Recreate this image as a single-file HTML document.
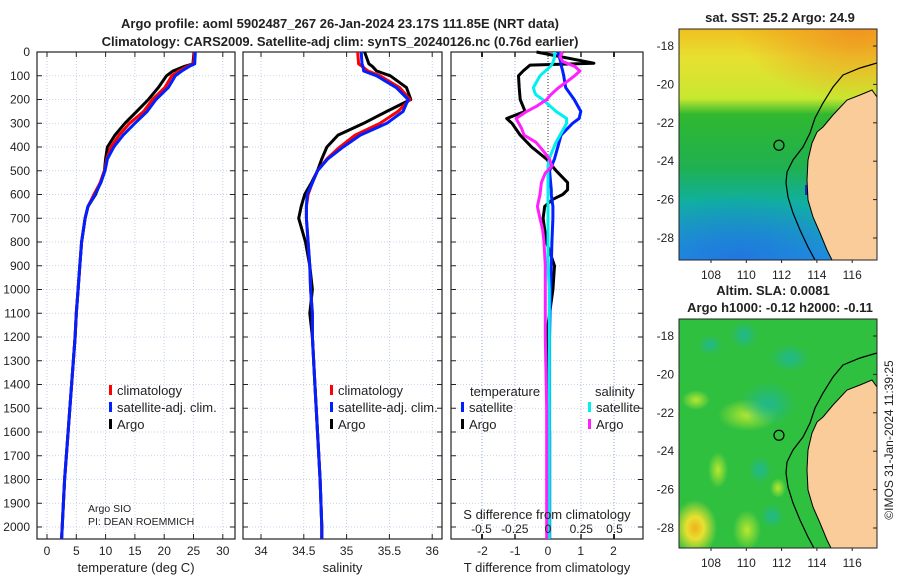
<!DOCTYPE html>
<html><head><meta charset="utf-8"><style>
body{margin:0;background:#fff;}
svg{display:block;font-family:"Liberation Sans","DejaVu Sans",sans-serif;}
text{fill:#222;}
</style></head><body>
<svg id="c" width="900" height="580" viewBox="0 0 900 580">
<defs>
<linearGradient id="sstg" x1="0" y1="0" x2="0" y2="1">
<stop offset="0" stop-color="#f0c020"/><stop offset="0.12" stop-color="#e8e030"/><stop offset="0.3" stop-color="#c8e830"/><stop offset="0.37" stop-color="#30b830"/><stop offset="0.6" stop-color="#20b050"/><stop offset="0.75" stop-color="#10b0a0"/><stop offset="1" stop-color="#2090e0"/>
</linearGradient>
<radialGradient id="or" cx="0.9" cy="0" r="0.6"><stop offset="0" stop-color="#f09020" stop-opacity="0.9"/><stop offset="1" stop-color="#f09020" stop-opacity="0"/></radialGradient>
<radialGradient id="bl" cx="0.3" cy="1" r="0.6"><stop offset="0" stop-color="#2070e0" stop-opacity="0.8"/><stop offset="1" stop-color="#2070e0" stop-opacity="0"/></radialGradient>
<radialGradient id="yl" cx="0.5" cy="0.5" r="0.5"><stop offset="0" stop-color="#b8e830"/><stop offset="1" stop-color="#b8e830" stop-opacity="0"/></radialGradient>
<radialGradient id="cy" cx="0.5" cy="0.5" r="0.5"><stop offset="0" stop-color="#20b890"/><stop offset="1" stop-color="#20b890" stop-opacity="0"/></radialGradient>
<radialGradient id="yo" cx="0.5" cy="0.5" r="0.5"><stop offset="0" stop-color="#f0b020"/><stop offset="0.4" stop-color="#e8e030"/><stop offset="1" stop-color="#e8e030" stop-opacity="0"/></radialGradient>
<clipPath id="mc1"><rect x="679" y="29" width="198" height="231"/></clipPath>
<clipPath id="mc2"><rect x="679" y="319" width="198" height="229"/></clipPath>
</defs>
<text x="340" y="28" text-anchor="middle" font-size="13" font-weight="bold">Argo profile: aoml 5902487_267 26-Jan-2024 23.17S 111.85E (NRT data)</text>
<text x="340" y="46" text-anchor="middle" font-size="13" font-weight="bold">Climatology: CARS2009. Satellite-adj clim: synTS_20240126.nc (0.76d earlier)</text>
<g id="plots"></g>
<g id="maps"></g>
<text transform="translate(893,440) rotate(-90)" text-anchor="middle" font-size="12">©IMOS 31-Jan-2024 11:39:25</text>
</svg>
<script>
const NS='http://www.w3.org/2000/svg';
const depths=[0,50,60,80,100,150,200,250,300,350,400,450,500,550,600,650,700,800,900,1000,1100,1200,1400,1600,1800,2000,2050];
const tempArgo=[25.1,24.9,23.5,21.5,20.4,19.0,17.3,15.3,13.3,11.6,10.3,10.0,9.8,9.1,8.3,7.0,6.5,5.9,5.6,5.3,5.0,4.8,4.2,3.6,3.0,2.6,2.5];
const tempClim=[25.2,25.0,24.0,22.5,21.3,20.1,18.0,16.5,14.1,12.3,10.9,10.2,9.8,9.1,8.0,7.0,6.5,5.9,5.6,5.3,5.0,4.8,4.2,3.6,3.0,2.6,2.5];
const tempSat=[25.3,25.2,24.3,23.0,21.9,20.7,18.6,17.1,15.0,13.0,11.4,10.3,9.9,9.2,8.2,7.0,6.5,5.9,5.6,5.3,5.0,4.8,4.2,3.6,3.0,2.6,2.5];
const salArgo=[35.21,35.26,35.30,35.35,35.51,35.70,35.75,35.47,35.20,34.90,34.77,34.71,34.66,34.59,34.51,34.47,34.44,34.52,34.57,34.60,34.57,34.60,34.63,34.66,34.69,34.71,34.71];
const salClim=[35.13,35.14,35.18,35.25,35.39,35.62,35.74,35.60,35.39,35.10,34.92,34.77,34.66,34.60,34.55,34.53,34.53,34.55,34.57,34.58,34.60,34.60,34.63,34.66,34.69,34.71,34.71];
const salSat=[35.17,35.18,35.19,35.20,35.35,35.58,35.72,35.66,35.47,35.16,34.96,34.78,34.66,34.60,34.54,34.53,34.53,34.55,34.57,34.58,34.60,34.60,34.63,34.66,34.69,34.71,34.71];
const dT_depths=[0,47,55,80,100,150,200,250,280,300,350,400,450,500,550,580,600,620,650,700,800,900,1000,1100,1200,1400,1600,1800,2000,2050];
const dTArgo=[-0.35,1.4,-0.55,-0.76,-0.9,-0.88,-0.85,-0.7,-1.26,-1.1,-0.85,-0.5,-0.05,0.25,0.6,0.6,0.45,0.15,-0.1,-0.15,-0.05,0.2,0.15,0.05,-0.05,0.0,0.05,0.05,0.05,0.05];
const dTSat=[0.3,0.4,0.4,0.45,0.48,0.54,0.8,1.0,0.95,0.75,0.4,0.3,0.2,0.05,0.08,0.1,0.1,0.12,0.15,0.15,0.12,0.1,0.08,0.06,0.05,0.05,0.05,0.05,0.05,0.05];
const dS_depths=[0,20,40,60,80,100,130,150,170,180,200,230,250,280,300,320,350,380,420,450,480,510,550,600,650,700,750,800,900,1000,1100,1200,1500,1800,2050];
const dSArgo=[0.11,0.09,0.11,0.2,0.24,0.2,0.13,0.08,0.04,0.02,-0.01,-0.09,-0.16,-0.24,-0.22,-0.2,-0.18,-0.09,-0.03,0.01,0.03,-0.02,-0.05,-0.06,-0.08,-0.06,-0.04,-0.03,-0.02,-0.02,-0.02,-0.02,-0.01,-0.01,-0.01];
const dSSat=[0.05,0.05,0.04,0.02,-0.02,-0.06,-0.09,-0.11,-0.1,-0.09,-0.04,0.02,0.06,0.14,0.14,0.12,0.09,0.06,0.03,0.01,0.0,0.0,0.0,0.0,0.0,0.0,0.0,0.0,0.0,0.01,0.01,0.01,0.01,0.01,0.01];
const depthTicks=[0,100,200,300,400,500,600,700,800,900,1000,1100,1200,1300,1400,1500,1600,1700,1800,1900,2000];
const tTicks=[0,5,10,15,20,25,30];
const sTicks=[34,34.5,35,35.5,36];
const dTTicks=[-2,-1,0,1,2];
const dSTicks=[-0.5,-0.25,0,0.25,0.5];
const dSTickLabels=['-0.5','-0.25','0','0.25','0.5'];

const plots=document.getElementById('plots');
function el(tag,attrs,parent){const e=document.createElementNS(NS,tag);for(const k in attrs)e.setAttribute(k,attrs[k]);(parent||plots).appendChild(e);return e;}
const TOP=52,BOT=539;
const yD=d=>TOP+d*0.2375;
const panels=[
 {x0:37,x1:235,f:v=>47+v*5.86,ticks:tTicks,labels:tTicks.map(String),title:'temperature (deg C)',name:'temperature'},
 {x0:243,x1:442,f:v=>261+(v-34)*85.6,ticks:sTicks,labels:sTicks.map(String),title:'salinity',name:'salinity'},
 {x0:451,x1:643,f:v=>548+v*32.75,ticks:dTTicks,labels:dTTicks.map(String),title:'T difference from climatology',name:'difference'}
];
const fS=v=>548+v*133;
panels.forEach((p,i)=>{
 const g=el('g',{});
 
 
 depthTicks.forEach(d=>{const l=el('line',{x1:p.x0,x2:p.x1,y1:yD(d),y2:yD(d),stroke:'#b8c4e8','stroke-width':0.8,'stroke-dasharray':'1,2'},g);
  el('line',{x1:p.x0,x2:p.x0+5,y1:yD(d),y2:yD(d),stroke:'#222'},g);el('line',{x1:p.x1-5,x2:p.x1,y1:yD(d),y2:yD(d),stroke:'#222'},g);});
 const vt=i==2?p.ticks.map(p.f).concat(dSTicks.map(fS)):p.ticks.map(p.f);
 vt.forEach(x=>{const l=el('line',{x1:x,x2:x,y1:TOP,y2:BOT,stroke:'#b8c4e8','stroke-width':0.8,'stroke-dasharray':'1,2'},g);
  el('line',{x1:x,x2:x,y1:TOP,y2:TOP+5,stroke:'#222'},g);el('line',{x1:x,x2:x,y1:BOT-5,y2:BOT,stroke:'#222'},g);});
 const fr=el('rect',{x:p.x0,y:TOP,width:p.x1-p.x0,height:BOT-TOP,fill:'none',stroke:'#222','stroke-width':1.2},g);
 
 p.ticks.forEach((t,k)=>{const tx=el('text',{x:p.f(t),y:555,'text-anchor':'middle','font-size':12},g);tx.textContent=p.labels[k];
  });
 const tt=el('text',{x:(p.x0+p.x1)/2,y:572,'text-anchor':'middle','font-size':13},g);tt.textContent=p.title;
 
});
depthTicks.forEach(d=>{const t=el('text',{x:30,y:yD(d)+4,'text-anchor':'end','font-size':12});t.textContent=String(d);
 });
function line(xs,ds,fx,color,name,w){
 const pts=xs.map((v,k)=>fx(v).toFixed(1)+','+yD(ds[k]).toFixed(1)).join(' ');
 const pl=el('polyline',{points:pts,fill:'none',stroke:color,'stroke-width':w||3,'stroke-linejoin':'round'});
 
 
}
line(tempArgo,depths,panels[0].f,'#000','temperature-argo-line');
line(tempClim,depths,panels[0].f,'#f00','temperature-climatology-line');
line(tempSat,depths,panels[0].f,'#0020ff','temperature-satellite-line');
line(salArgo,depths,panels[1].f,'#000','salinity-argo-line');
line(salClim,depths,panels[1].f,'#f00','salinity-climatology-line');
line(salSat,depths,panels[1].f,'#0020ff','salinity-satellite-line');
const zl=el('line',{x1:548,x2:548,y1:TOP,y2:yD(500),stroke:'#333','stroke-dasharray':'1,2'});

line(dTArgo,dT_depths,panels[2].f,'#000','t-diff-argo-line');
line(dTSat,dT_depths,panels[2].f,'#0020ff','t-diff-satellite-line');
line(dSSat,dS_depths,fS,'#00f0f0','s-diff-satellite-line');
line(dSArgo,dS_depths,fS,'#ff20ff','s-diff-argo-line');
dSTicks.forEach((t,k)=>{const tx=el('text',{x:fS(t),y:533,'text-anchor':'middle','font-size':12});tx.textContent=dSTickLabels[k];
 });
const st=el('text',{x:547,y:519,'text-anchor':'middle','font-size':13});st.textContent='S difference from climatology';

function legend(x,y,color,label,name){
 const r=el('rect',{x:x,y:y-6,width:3,height:10,fill:color});
 const t=el('text',{x:x+8,y:y+4,'font-size':13});t.textContent=label;
}
legend(109,391,'#f00','climatology','legend-climatology-temp');
legend(109,408,'#0020ff','satellite-adj. clim.','legend-satellite-temp');
legend(109,425,'#000','Argo','legend-argo-temp');
legend(330,391,'#f00','climatology','legend-climatology-sal');
legend(330,408,'#0020ff','satellite-adj. clim.','legend-satellite-sal');
legend(330,425,'#000','Argo','legend-argo-sal');
const lt=el('text',{x:470,y:396,'font-size':13});lt.textContent='temperature';
const ls=el('text',{x:595,y:396,'font-size':13});ls.textContent='salinity';
legend(461,408,'#0020ff','satellite','legend-t-satellite');
legend(461,425,'#000','Argo','legend-t-argo');
legend(588,408,'#00f0f0','satellite','legend-s-satellite');
legend(588,425,'#ff20ff','Argo','legend-s-argo');
const a1=el('text',{x:88,y:512,'font-size':10.5});a1.textContent='Argo SIO';
const a2=el('text',{x:88,y:525,'font-size':10.5});a2.textContent='PI: DEAN ROEMMICH';

/* maps */
const maps=document.getElementById('maps');
const latTicks=[-18,-20,-22,-24,-26,-28];
const lonTicks=[108,110,112,114,116];
const lonX=l=>711+(l-108)*17.65;
const latY=l=>46+(-18-l)*19.2;
const land='877,97 872,90 860,95 847,100 833,115 823,127 817,132 812,143 808,160 807,180 808,200 813,217 820,233 827,250 832,260 877,260';
const shelf='877,63 860,68 843,75 833,87 823,103 815,118 810,133 803,147 793,160 787,172 786,183 788,197 793,213 800,230 808,247 815,260';
const coast='877,97 872,90 860,95 847,100 833,115 823,127 817,132 812,143 808,160 807,180 808,200 813,217 820,233 827,250 832,260';
function m(tag,attrs,parent){const e=document.createElementNS(NS,tag);for(const k in attrs)e.setAttribute(k,attrs[k]);parent.appendChild(e);return e;}
[0,1].forEach(i=>{
 const oy=i?290:0;
 const g=m('g',{},maps);
 
 
 const c=m('g',{'clip-path':'url(#mc'+(i+1)+')'},g);
 if(!i){
  m('rect',{x:679,y:29,width:198,height:231,fill:'url(#sstg)'},c);
  m('rect',{x:679,y:29,width:198,height:120,fill:'url(#or)'},c);
  m('rect',{x:679,y:150,width:198,height:110,fill:'url(#bl)'},c);
  m('rect',{x:805,y:185,width:8,height:10,fill:'#1030c0'},c);
 } else {
  m('rect',{x:679,y:319,width:198,height:229,fill:'#30c040'},c);
  [[748,415,30,16,'yl'],[744,335,14,14,'cy'],[696,400,14,10,'yl'],[718,470,10,18,'yl'],[747,530,14,20,'yl'],[695,528,22,28,'yo'],[772,516,12,12,'cy'],[768,404,28,22,'cy'],[790,358,20,14,'cy'],[710,345,12,10,'cy'],[760,470,12,14,'cy'],[778,488,8,10,'yl']].forEach(b=>m('ellipse',{cx:b[0],cy:b[1],rx:b[2],ry:b[3],fill:'url(#'+b[4]+')'},c));
 }
 const t=m('g',{transform:'translate(0,'+oy+')'},c);
 const lp=m('polygon',{points:land,fill:'#f9cc9a'},t);
 m('polyline',{points:coast,fill:'none',stroke:'#000','stroke-width':1},t);
 const sp=m('polyline',{points:shelf,fill:'none',stroke:'#000','stroke-width':1.2},t);
 const ci=m('circle',{cx:lonX(111.85),cy:latY(-23.17)+oy,r:5,fill:'none',stroke:'#000','stroke-width':1.2},g);
 
 const y0=i?319:29,h=i?229:231;
 const fr=m('rect',{x:679,y:y0,width:198,height:h,fill:'none',stroke:'#222'},g);
 latTicks.forEach(l=>{const y=latY(l)+oy;m('line',{x1:877,x2:873,y1:y,y2:y,stroke:'#222'},g);
  const tx=m('text',{x:674,y:y+4,'text-anchor':'end','font-size':12},g);tx.textContent=String(l);});
 lonTicks.forEach(l=>{const x=lonX(l);m('line',{x1:x,x2:x,y1:y0+h,y2:y0+h+3,stroke:'#222'},g);
  const tx=m('text',{x:x,y:y0+h+19,'text-anchor':'middle','font-size':12},g);tx.textContent=String(l);});
});
function mt(x,y,s,name){const t=m('text',{x:x,y:y,'text-anchor':'middle','font-size':13,'font-weight':'bold'},maps);t.textContent=s;}
mt(780,22,'sat. SST: 25.2 Argo: 24.9','sst-map-title');
mt(773,295,'Altim. SLA: 0.0081','sla-map-title');
mt(780,312,'Argo h1000: -0.12 h2000: -0.11','sla-map-subtitle');
</script>
</body></html>
